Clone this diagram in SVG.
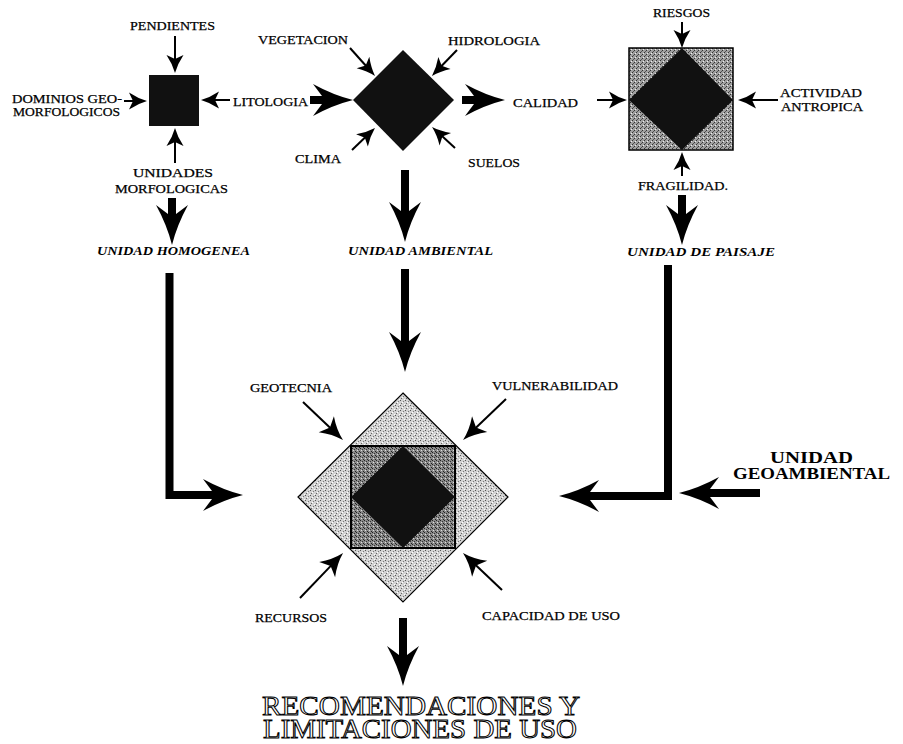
<svg xmlns="http://www.w3.org/2000/svg" width="903" height="744" viewBox="0 0 903 744">
<style>
.lbl{font-family:"Liberation Serif","Times New Roman",serif;font-size:13px;fill:#000;stroke:#000;stroke-width:0.25}
.it{font-family:"Liberation Serif","Times New Roman",serif;font-size:13px;font-style:italic;font-weight:bold;fill:#000}
.big{font-family:"Liberation Serif","Times New Roman",serif;font-size:17px;font-weight:bold;fill:#000}
.eng{font-family:"Liberation Serif","Times New Roman",serif;font-size:27px;fill:#fff;stroke:#000;stroke-width:1}
.thin{stroke:#000;stroke-width:2;fill:none}
.thick{stroke:#000;stroke-width:8;fill:none;stroke-linejoin:miter}
.blk{fill:#111}
</style>
<defs>
<marker id="sm" markerUnits="userSpaceOnUse" orient="auto" overflow="visible" markerWidth="1" markerHeight="1" refX="0" refY="0">
<path d="M12,0 Q3,-2.5 -6,-8.5 L-2,0 L-6,8.5 Q3,2.5 12,0 Z" fill="#000"/>
</marker>
<marker id="md" markerUnits="userSpaceOnUse" orient="auto" overflow="visible" markerWidth="1" markerHeight="1" refX="0" refY="0">
<path d="M16,0 Q4,-3 -7,-11 L-2,0 L-7,11 Q4,3 16,0 Z" fill="#000"/>
</marker>
<marker id="lg" markerUnits="userSpaceOnUse" orient="auto" overflow="visible" markerWidth="1" markerHeight="1" refX="0" refY="0">
<path d="M28,0 Q8,-5 -12,-16 L0,0 L-12,16 Q8,5 28,0 Z" fill="#000"/>
</marker>
<pattern id="stipLight" patternUnits="userSpaceOnUse" width="5" height="5">
<rect width="5" height="5" fill="#d2d2d2"/>
<rect x="0" y="0" width="1" height="1" fill="#555"/>
<rect x="3" y="1" width="1" height="1" fill="#777"/>
<rect x="1" y="3" width="1" height="1" fill="#666"/>
<rect x="4" y="4" width="1" height="1" fill="#fff"/>
<rect x="2" y="2" width="1" height="1" fill="#fff"/>
</pattern>
<pattern id="stipDark" patternUnits="userSpaceOnUse" width="4" height="4">
<rect width="4" height="4" fill="#8a8a8a"/>
<rect x="0" y="0" width="1" height="1" fill="#222"/>
<rect x="2" y="1" width="1" height="1" fill="#333"/>
<rect x="1" y="2" width="1" height="1" fill="#ddd"/>
<rect x="3" y="3" width="1" height="1" fill="#222"/>
</pattern>
<pattern id="stipMed" patternUnits="userSpaceOnUse" width="4" height="4">
<rect width="4" height="4" fill="#a0a0a0"/>
<rect x="0" y="0" width="1" height="1" fill="#333"/>
<rect x="2" y="2" width="1" height="1" fill="#333"/>
<rect x="3" y="1" width="1" height="1" fill="#eee"/>
<rect x="1" y="3" width="1" height="1" fill="#555"/>
</pattern>
</defs>
<rect width="903" height="744" fill="#fff"/>

<g id="connectors">
<line class="thin" x1="175" y1="36" x2="175" y2="61" marker-end="url(#sm)"/>
<line class="thin" x1="124" y1="101" x2="135" y2="101" marker-end="url(#sm)"/>
<line class="thin" x1="230" y1="100" x2="213" y2="100" marker-end="url(#sm)"/>
<line class="thin" x1="175" y1="163" x2="175" y2="140" marker-end="url(#sm)"/>
<line class="thin" x1="350" y1="48" x2="367" y2="67" marker-end="url(#sm)"/>
<line class="thin" x1="457" y1="50" x2="440.3" y2="67.3" marker-end="url(#sm)"/>
<line class="thin" x1="352" y1="150" x2="366.3" y2="136.3" marker-end="url(#sm)"/>
<line class="thin" x1="455" y1="148" x2="440.9" y2="135.1" marker-end="url(#sm)"/>
<line class="thin" x1="682" y1="22" x2="682" y2="36" marker-end="url(#sm)"/>
<line class="thin" x1="597" y1="100" x2="615" y2="100" marker-end="url(#sm)"/>
<line class="thin" x1="778" y1="100" x2="750" y2="100" marker-end="url(#sm)"/>
<line class="thin" x1="682" y1="176" x2="682" y2="164" marker-end="url(#sm)"/>
<line class="thin" x1="303" y1="402" x2="331.4" y2="429" marker-end="url(#md)"/>
<line class="thin" x1="506" y1="399" x2="474.6" y2="429" marker-end="url(#md)"/>
<line class="thin" x1="300" y1="598" x2="332" y2="564.6" marker-end="url(#md)"/>
<line class="thin" x1="502" y1="590" x2="474.6" y2="564" marker-end="url(#md)"/>
<line class="thick" x1="172" y1="198" x2="172" y2="217" marker-end="url(#lg)"/>
<line class="thick" x1="405" y1="170" x2="405" y2="214" marker-end="url(#lg)"/>
<line class="thick" x1="682" y1="195" x2="682" y2="217" marker-end="url(#lg)"/>
<line class="thick" x1="405" y1="269" x2="405" y2="344" marker-end="url(#lg)"/>
<line class="thick" x1="403" y1="618" x2="403" y2="658" marker-end="url(#lg)"/>
<path class="thick" d="M169.5,273 V495 H215" marker-end="url(#lg)"/>
<path class="thick" d="M668,265 V496 H587" marker-end="url(#lg)"/>
<line class="thick" x1="760" y1="493" x2="707" y2="493" marker-end="url(#lg)"/>
<line class="thick" x1="310" y1="100" x2="325" y2="100" marker-end="url(#lg)"/>
<line class="thick" x1="462" y1="100" x2="477" y2="100" marker-end="url(#lg)"/>
</g>

<g id="node-homogenea">
<rect class="blk" x="149" y="75" width="50" height="51"/>
</g>
<g id="node-ambiental">
<polygon class="blk" points="403,50 454,100 403,151 353,100"/>
</g>
<g id="node-paisaje">
<rect x="629" y="48" width="104" height="102" fill="url(#stipMed)" stroke="#000" stroke-width="1.5"/>
<polygon class="blk" points="682,48 733,100 682,150 629,100"/>
</g>
<g id="node-geoambiental">
<polygon points="403,393 508,497 403,602 298,497" fill="url(#stipLight)" stroke="#000" stroke-width="1.2"/>
<rect x="351" y="446" width="104" height="102" fill="url(#stipDark)" stroke="#000" stroke-width="2"/>
<polygon class="blk" points="403,446 455,497 403,548 351,497"/>
</g>

<g id="labels">
<text class="lbl" x="130" y="30" textLength="85" lengthAdjust="spacingAndGlyphs">PENDIENTES</text>
<text class="lbl" x="12" y="103" textLength="110" lengthAdjust="spacingAndGlyphs">DOMINIOS GEO-</text>
<text class="lbl" x="13" y="116" textLength="107" lengthAdjust="spacingAndGlyphs">MORFOLOGICOS</text>
<text class="lbl" x="233" y="106" textLength="75" lengthAdjust="spacingAndGlyphs">LITOLOGIA</text>
<text class="lbl" x="133" y="177" textLength="80" lengthAdjust="spacingAndGlyphs">UNIDADES</text>
<text class="lbl" x="115" y="193" textLength="113" lengthAdjust="spacingAndGlyphs">MORFOLOGICAS</text>
<text class="it" x="97" y="255" textLength="153" lengthAdjust="spacingAndGlyphs">UNIDAD HOMOGENEA</text>
<text class="lbl" x="258" y="44" textLength="90" lengthAdjust="spacingAndGlyphs">VEGETACION</text>
<text class="lbl" x="448" y="45" textLength="92" lengthAdjust="spacingAndGlyphs">HIDROLOGIA</text>
<text class="lbl" x="295" y="163" textLength="46" lengthAdjust="spacingAndGlyphs">CLIMA</text>
<text class="lbl" x="468" y="167" textLength="52" lengthAdjust="spacingAndGlyphs">SUELOS</text>
<text class="lbl" x="513" y="107" textLength="65" lengthAdjust="spacingAndGlyphs">CALIDAD</text>
<text class="it" x="348" y="255" textLength="145" lengthAdjust="spacingAndGlyphs">UNIDAD AMBIENTAL</text>
<text class="lbl" x="653" y="17" textLength="57" lengthAdjust="spacingAndGlyphs">RIESGOS</text>
<text class="lbl" x="780" y="97" textLength="82" lengthAdjust="spacingAndGlyphs">ACTIVIDAD</text>
<text class="lbl" x="781" y="111" textLength="82" lengthAdjust="spacingAndGlyphs">ANTROPICA</text>
<text class="lbl" x="638" y="190" textLength="90" lengthAdjust="spacingAndGlyphs">FRAGILIDAD.</text>
<text class="it" x="627" y="256" textLength="148" lengthAdjust="spacingAndGlyphs">UNIDAD DE PAISAJE</text>
<text class="lbl" x="250" y="392" textLength="82" lengthAdjust="spacingAndGlyphs">GEOTECNIA</text>
<text class="lbl" x="492" y="390" textLength="126" lengthAdjust="spacingAndGlyphs">VULNERABILIDAD</text>
<text class="lbl" x="255" y="622" textLength="72" lengthAdjust="spacingAndGlyphs">RECURSOS</text>
<text class="lbl" x="482" y="620" textLength="138" lengthAdjust="spacingAndGlyphs">CAPACIDAD DE USO</text>
<text class="big" x="770" y="463" textLength="83" lengthAdjust="spacingAndGlyphs">UNIDAD</text>
<text class="big" x="733" y="479" textLength="157" lengthAdjust="spacingAndGlyphs">GEOAMBIENTAL</text>
<text class="eng" x="262" y="715" textLength="318" lengthAdjust="spacingAndGlyphs">RECOMENDACIONES Y</text>
<text class="eng" x="263" y="738" textLength="314" lengthAdjust="spacingAndGlyphs">LIMITACIONES DE USO</text>
</g>
</svg>
